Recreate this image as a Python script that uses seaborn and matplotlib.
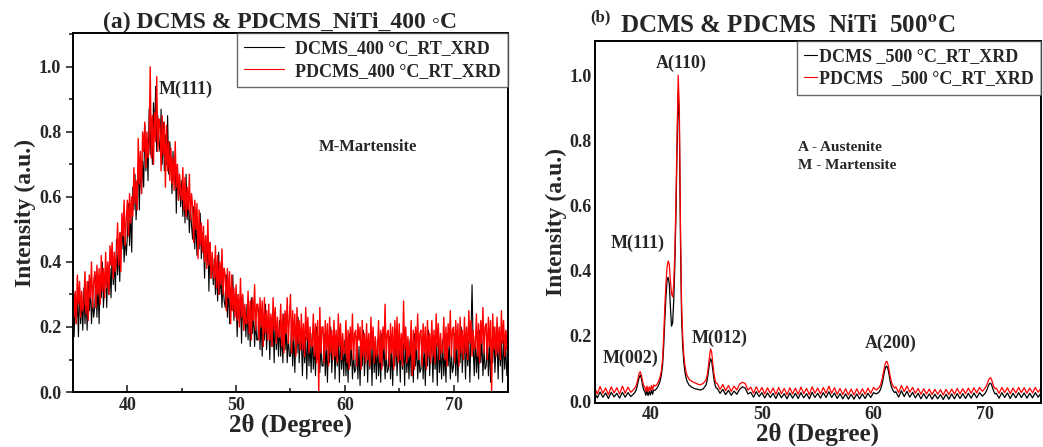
import numpy as np
import pandas as pd
import matplotlib
matplotlib.use("Agg")
import matplotlib.pyplot as plt
import seaborn as sns
from matplotlib.lines import Line2D
from matplotlib.ticker import MultipleLocator, FormatStrFormatter

# ---- panel (a): NiTi 400 C, read every 0.1 deg (one row per degree) ----
two_theta_a = np.round(np.arange(35, 75.001, 0.1), 2)

dcms_400 = [
    0.28, 0.17, 0.30, 0.21, 0.29, 0.17, 0.32, 0.21, 0.28, 0.19,  # 35
    0.32, 0.21, 0.29, 0.19, 0.34, 0.25, 0.32, 0.21, 0.29, 0.23,  # 36
    0.26, 0.36, 0.23, 0.33, 0.21, 0.36, 0.29, 0.40, 0.26, 0.34,  # 37
    0.37, 0.26, 0.39, 0.30, 0.38, 0.29, 0.44, 0.33, 0.40, 0.31,  # 38
    0.47, 0.36, 0.44, 0.34, 0.49, 0.44, 0.51, 0.40, 0.48, 0.42,  # 39
    0.48, 0.58, 0.45, 0.55, 0.43, 0.63, 0.56, 0.67, 0.53, 0.61,  # 40
    0.70, 0.56, 0.73, 0.61, 0.71, 0.63, 0.82, 0.68, 0.77, 0.65,  # 41
    0.87, 0.73, 0.83, 0.70, 0.89, 0.79, 0.94, 0.74, 0.85, 0.77,  # 42
    0.74, 0.87, 0.70, 0.83, 0.68, 0.79, 0.70, 0.85, 0.67, 0.77,  # 43
    0.72, 0.61, 0.74, 0.65, 0.73, 0.55, 0.70, 0.59, 0.66, 0.57,  # 44
    0.65, 0.54, 0.62, 0.52, 0.67, 0.53, 0.60, 0.49, 0.57, 0.51,  # 45
    0.47, 0.57, 0.44, 0.54, 0.42, 0.51, 0.44, 0.55, 0.41, 0.49,  # 46
    0.46, 0.35, 0.48, 0.39, 0.47, 0.31, 0.46, 0.35, 0.42, 0.33,  # 47
    0.41, 0.30, 0.38, 0.28, 0.43, 0.30, 0.37, 0.26, 0.34, 0.28,  # 48
    0.26, 0.36, 0.23, 0.33, 0.21, 0.32, 0.25, 0.36, 0.22, 0.30,  # 49
    0.28, 0.17, 0.30, 0.21, 0.29, 0.15, 0.30, 0.19, 0.26, 0.17,  # 50
    0.27, 0.16, 0.24, 0.14, 0.29, 0.18, 0.25, 0.14, 0.22, 0.16,  # 51
    0.16, 0.26, 0.13, 0.23, 0.11, 0.23, 0.16, 0.27, 0.13, 0.21,  # 52
    0.21, 0.10, 0.23, 0.14, 0.22, 0.09, 0.24, 0.13, 0.20, 0.11,  # 53
    0.22, 0.11, 0.19, 0.09, 0.24, 0.13, 0.20, 0.09, 0.17, 0.11,  # 54
    0.11, 0.21, 0.08, 0.18, 0.06, 0.19, 0.12, 0.23, 0.09, 0.17,  # 55
    0.16, 0.05, 0.18, 0.09, 0.17, 0.04, 0.19, 0.08, 0.15, 0.06,  # 56
    0.18, 0.07, 0.15, 0.05, 0.20, 0.10, 0.17, 0.06, 0.14, 0.08,  # 57
    0.08, 0.18, 0.05, 0.15, 0.03, 0.16, 0.09, 0.20, 0.06, 0.14,  # 58
    0.15, 0.04, 0.17, 0.08, 0.16, 0.03, 0.18, 0.07, 0.14, 0.05,  # 59
    0.16, 0.05, 0.13, 0.03, 0.18, 0.08, 0.15, 0.04, 0.12, 0.06,  # 60
    0.07, 0.17, 0.04, 0.14, 0.02, 0.15, 0.08, 0.19, 0.05, 0.13,  # 61
    0.14, 0.03, 0.16, 0.07, 0.15, 0.02, 0.17, 0.06, 0.13, 0.04,  # 62
    0.16, 0.05, 0.13, 0.03, 0.18, 0.08, 0.15, 0.04, 0.12, 0.06,  # 63
    0.07, 0.17, 0.04, 0.14, 0.02, 0.15, 0.08, 0.19, 0.05, 0.13,  # 64
    0.14, 0.03, 0.16, 0.07, 0.15, 0.02, 0.17, 0.06, 0.13, 0.04,  # 65
    0.16, 0.05, 0.13, 0.03, 0.18, 0.08, 0.15, 0.04, 0.12, 0.06,  # 66
    0.07, 0.17, 0.04, 0.14, 0.02, 0.15, 0.08, 0.19, 0.05, 0.13,  # 67
    0.14, 0.03, 0.16, 0.07, 0.15, 0.02, 0.17, 0.06, 0.13, 0.04,  # 68
    0.16, 0.05, 0.13, 0.03, 0.18, 0.08, 0.15, 0.04, 0.12, 0.06,  # 69
    0.08, 0.18, 0.05, 0.15, 0.03, 0.16, 0.09, 0.20, 0.06, 0.14,  # 70
    0.15, 0.04, 0.17, 0.08, 0.16, 0.03, 0.18, 0.33, 0.14, 0.05,  # 71
    0.17, 0.06, 0.14, 0.04, 0.19, 0.09, 0.16, 0.05, 0.13, 0.07,  # 72
    0.08, 0.18, 0.05, 0.15, 0.03, 0.16, 0.09, 0.20, 0.06, 0.14,  # 73
    0.15, 0.04, 0.17, 0.08, 0.16, 0.03, 0.18, 0.07, 0.14, 0.05,  # 74
    0.10,
]

pdcms_400 = [
    0.34, 0.23, 0.31, 0.21, 0.36, 0.27, 0.34, 0.23, 0.31, 0.25,  # 35
    0.27, 0.37, 0.24, 0.34, 0.22, 0.36, 0.29, 0.40, 0.26, 0.34,  # 36
    0.37, 0.26, 0.39, 0.30, 0.38, 0.27, 0.42, 0.31, 0.38, 0.29,  # 37
    0.43, 0.32, 0.40, 0.30, 0.45, 0.39, 0.46, 0.35, 0.43, 0.37,  # 38
    0.42, 0.52, 0.39, 0.49, 0.37, 0.55, 0.48, 0.59, 0.45, 0.53,  # 39
    0.59, 0.48, 0.61, 0.52, 0.60, 0.54, 0.69, 0.58, 0.65, 0.56,  # 40
    0.78, 0.64, 0.74, 0.61, 0.80, 0.74, 0.83, 0.69, 0.80, 0.72,  # 41
    0.76, 1.00, 0.72, 0.85, 0.70, 0.86, 0.77, 0.97, 0.74, 0.84,  # 42
    0.82, 0.68, 0.85, 0.73, 0.83, 0.63, 0.82, 0.68, 0.77, 0.65,  # 43
    0.75, 0.64, 0.72, 0.62, 0.77, 0.63, 0.70, 0.59, 0.67, 0.61,  # 44
    0.59, 0.69, 0.56, 0.66, 0.54, 0.63, 0.56, 0.67, 0.53, 0.61,  # 45
    0.57, 0.46, 0.59, 0.50, 0.58, 0.41, 0.56, 0.45, 0.52, 0.43,  # 46
    0.51, 0.40, 0.48, 0.38, 0.53, 0.39, 0.46, 0.35, 0.43, 0.37,  # 47
    0.35, 0.45, 0.32, 0.42, 0.30, 0.40, 0.33, 0.44, 0.30, 0.38,  # 48
    0.36, 0.25, 0.38, 0.29, 0.37, 0.21, 0.36, 0.25, 0.32, 0.23,  # 49
    0.33, 0.22, 0.30, 0.20, 0.35, 0.23, 0.30, 0.19, 0.27, 0.21,  # 50
    0.21, 0.31, 0.18, 0.28, 0.16, 0.29, 0.22, 0.33, 0.19, 0.27,  # 51
    0.27, 0.16, 0.29, 0.20, 0.28, 0.14, 0.29, 0.18, 0.25, 0.16,  # 52
    0.27, 0.16, 0.24, 0.14, 0.29, 0.19, 0.26, 0.15, 0.23, 0.17,  # 53
    0.17, 0.27, 0.14, 0.24, 0.12, 0.25, 0.18, 0.29, 0.15, 0.23,  # 54
    0.30, 0.12, 0.25, 0.16, 0.24, 0.11, 0.26, 0.15, 0.22, 0.13,  # 55
    0.24, 0.13, 0.21, 0.11, 0.26, 0.16, 0.23, 0.12, 0.20, 0.14,  # 56
    0.14, 0.24, 0.11, 0.21, 0.09, 0.22, 0.00, 0.26, 0.12, 0.20,  # 57
    0.20, 0.09, 0.22, 0.13, 0.21, 0.08, 0.23, 0.12, 0.19, 0.10,  # 58
    0.22, 0.11, 0.19, 0.09, 0.24, 0.14, 0.21, 0.10, 0.18, 0.12,  # 59
    0.12, 0.22, 0.09, 0.19, 0.07, 0.20, 0.13, 0.24, 0.10, 0.18,  # 60
    0.19, 0.08, 0.21, 0.16, 0.20, 0.07, 0.22, 0.11, 0.18, 0.09,  # 61
    0.21, 0.10, 0.18, 0.08, 0.23, 0.13, 0.20, 0.09, 0.17, 0.11,  # 62
    0.12, 0.22, 0.09, 0.19, 0.07, 0.20, 0.13, 0.27, 0.10, 0.18,  # 63
    0.19, 0.08, 0.21, 0.12, 0.20, 0.07, 0.22, 0.11, 0.23, 0.09,  # 64
    0.21, 0.10, 0.18, 0.08, 0.28, 0.13, 0.20, 0.09, 0.17, 0.11,  # 65
    0.12, 0.22, 0.05, 0.19, 0.07, 0.20, 0.13, 0.24, 0.10, 0.18,  # 66
    0.19, 0.08, 0.21, 0.12, 0.20, 0.07, 0.22, 0.11, 0.18, 0.09,  # 67
    0.22, 0.11, 0.19, 0.09, 0.24, 0.14, 0.21, 0.10, 0.18, 0.12,  # 68
    0.13, 0.23, 0.10, 0.20, 0.08, 0.21, 0.14, 0.25, 0.11, 0.19,  # 69
    0.20, 0.09, 0.22, 0.13, 0.21, 0.08, 0.23, 0.12, 0.19, 0.10,  # 70
    0.23, 0.12, 0.20, 0.10, 0.25, 0.15, 0.22, 0.11, 0.19, 0.13,  # 71
    0.14, 0.24, 0.11, 0.21, 0.09, 0.22, 0.15, 0.26, 0.12, 0.20,  # 72
    0.21, 0.10, 0.23, 0.14, 0.22, 0.00, 0.24, 0.13, 0.20, 0.11,  # 73
    0.23, 0.12, 0.20, 0.10, 0.25, 0.15, 0.22, 0.11, 0.19, 0.13,  # 74
    0.22,
]

# ---- panel (b): NiTi 500 C, finer steps around the peaks ----
two_theta_b = np.round(np.concatenate([
    np.arange(35.0, 38.5, 0.25), np.arange(38.5, 43.45, 0.1),
    np.arange(43.5, 45.0, 0.25), np.arange(45.0, 45.95, 0.1),
    np.arange(46.0, 60.5, 0.25), np.arange(60.5, 61.95, 0.1),
    np.arange(62.0, 70.0, 0.25), np.arange(70.0, 70.95, 0.1),
    np.arange(71.0, 75.01, 0.25)]), 2)

dcms_500 = [
    0.026, 0.010, 0.028, 0.012, 0.025, 0.008, 0.027, 0.013, 0.024, 0.009, 0.027, 0.012, 0.026, 0.014,
    0.022, 0.026, 0.032, 0.042, 0.058, 0.072, 0.080, 0.070, 0.050, 0.035,
    0.030, 0.018, 0.032, 0.017, 0.030, 0.019, 0.033, 0.021, 0.034, 0.033,
    0.036, 0.040, 0.046, 0.054, 0.065, 0.082, 0.11, 0.17, 0.25, 0.32,
    0.37, 0.38, 0.36, 0.29, 0.23, 0.24, 0.31, 0.42, 0.58, 0.78,
    0.95, 0.86, 0.50, 0.26, 0.17, 0.12, 0.09, 0.072, 0.060, 0.054,
    0.048, 0.042, 0.038, 0.036, 0.034, 0.038,
    0.050, 0.065, 0.088, 0.115, 0.130, 0.122, 0.095, 0.068, 0.050, 0.040,
    0.039, 0.024, 0.036, 0.020, 0.033, 0.018, 0.031, 0.021, 0.036, 0.044, 0.040, 0.022,
    0.027, 0.012, 0.029, 0.014, 0.026, 0.010, 0.025, 0.011, 0.024, 0.008, 0.026, 0.010,
    0.023, 0.007, 0.025, 0.009, 0.024, 0.008, 0.026, 0.010, 0.023, 0.007, 0.027, 0.011,
    0.024, 0.009, 0.026, 0.011, 0.029, 0.011, 0.025, 0.008, 0.023, 0.007, 0.022, 0.006,
    0.021, 0.006, 0.022, 0.007, 0.022, 0.008, 0.024, 0.011, 0.026, 0.022,
    0.028, 0.034, 0.044, 0.058, 0.076, 0.094, 0.105, 0.107, 0.098, 0.080, 0.060, 0.045, 0.036, 0.030, 0.026,
    0.029, 0.012, 0.032, 0.014, 0.030, 0.012, 0.027, 0.010, 0.024, 0.007, 0.023, 0.008,
    0.022, 0.006, 0.021, 0.007, 0.020, 0.005, 0.021, 0.006, 0.022, 0.007, 0.023, 0.008,
    0.023, 0.008, 0.024, 0.009, 0.025, 0.010, 0.026, 0.015,
    0.024, 0.030, 0.038, 0.048, 0.054, 0.055, 0.048, 0.037, 0.028, 0.022,
    0.024, 0.009, 0.026, 0.011, 0.025, 0.008, 0.024, 0.010, 0.026, 0.011, 0.025, 0.009,
    0.024, 0.010, 0.026, 0.012, 0.024,
]

pdcms_500 = [
    0.042, 0.022, 0.045, 0.024, 0.040, 0.020, 0.044, 0.025, 0.041, 0.022, 0.046, 0.024, 0.043, 0.027,
    0.035, 0.040, 0.045, 0.055, 0.070, 0.085, 0.090, 0.080, 0.062, 0.048,
    0.044, 0.030, 0.046, 0.029, 0.044, 0.032, 0.048, 0.034, 0.050, 0.046,
    0.048, 0.052, 0.058, 0.066, 0.078, 0.095, 0.13, 0.20, 0.29, 0.36,
    0.41, 0.43, 0.42, 0.37, 0.33, 0.32, 0.36, 0.46, 0.62, 0.82,
    1.00, 0.90, 0.55, 0.30, 0.20, 0.14, 0.11, 0.09, 0.078, 0.072,
    0.066, 0.060, 0.056, 0.052, 0.050, 0.055,
    0.065, 0.080, 0.105, 0.135, 0.160, 0.150, 0.115, 0.085, 0.065, 0.055,
    0.054, 0.036, 0.051, 0.032, 0.048, 0.030, 0.046, 0.034, 0.052, 0.058, 0.054, 0.034,
    0.043, 0.024, 0.044, 0.026, 0.042, 0.022, 0.041, 0.024, 0.040, 0.021, 0.042, 0.023,
    0.039, 0.020, 0.041, 0.022, 0.040, 0.021, 0.043, 0.023, 0.039, 0.020, 0.044, 0.024,
    0.040, 0.022, 0.042, 0.024, 0.046, 0.024, 0.041, 0.021, 0.039, 0.020, 0.038, 0.019,
    0.037, 0.019, 0.038, 0.020, 0.038, 0.021, 0.040, 0.024, 0.042, 0.034,
    0.042, 0.048, 0.058, 0.072, 0.090, 0.108, 0.120, 0.122, 0.112, 0.095, 0.075, 0.060, 0.050, 0.044, 0.040,
    0.044, 0.026, 0.048, 0.029, 0.046, 0.027, 0.042, 0.024, 0.039, 0.021, 0.038, 0.022,
    0.037, 0.020, 0.036, 0.021, 0.035, 0.019, 0.036, 0.020, 0.037, 0.021, 0.039, 0.022,
    0.038, 0.023, 0.040, 0.024, 0.041, 0.025, 0.042, 0.030,
    0.040, 0.046, 0.054, 0.064, 0.070, 0.072, 0.064, 0.052, 0.043, 0.038,
    0.040, 0.024, 0.042, 0.026, 0.041, 0.023, 0.040, 0.025, 0.042, 0.026, 0.041, 0.024,
    0.040, 0.025, 0.042, 0.027, 0.040,
]

labels_a = ["DCMS_400 \u00b0C_RT_XRD", "PDCMS_400 \u00b0C_RT_XRD"]
labels_b = ["DCMS _500 \u00b0C_RT_XRD", "PDCMS  _500 \u00b0C_RT_XRD"]
colors = ["black", "red"]

assert len(dcms_400) == len(pdcms_400) == len(two_theta_a)
assert len(dcms_500) == len(pdcms_500) == len(two_theta_b)

df_a = pd.concat([
    pd.DataFrame({"x": two_theta_a, "y": dcms_400, "s": labels_a[0]}),
    pd.DataFrame({"x": two_theta_a, "y": pdcms_400, "s": labels_a[1]}),
])
df_b = pd.concat([
    pd.DataFrame({"x": two_theta_b, "y": dcms_500, "s": labels_b[0]}),
    pd.DataFrame({"x": two_theta_b, "y": pdcms_500, "s": labels_b[1]}),
])

sns.set_style("ticks")
plt.rcParams["font.family"] = ["Liberation Serif", "DejaVu Serif"]
plt.rcParams["font.weight"] = "bold"
plt.rcParams["axes.labelweight"] = "bold"
plt.rcParams["mathtext.fontset"] = "stix"

fig = plt.figure(figsize=(10.43, 4.47), dpi=100)
ax1 = fig.add_axes([0.070, 0.123, 0.417, 0.803])
ax2 = fig.add_axes([0.570, 0.099, 0.428, 0.810])

for ax, df, labels, lw in [(ax1, df_a, labels_a, 0.8), (ax2, df_b, labels_b, 0.9)]:
    sns.lineplot(data=df, x="x", y="y", hue="s", palette=colors,
                 estimator=None, sort=False, linewidth=lw, legend=False, ax=ax)
    ax.set_xlim(35, 75)
    ax.set_xlabel("2\u03b8 (Degree)", fontsize=18, labelpad=0)
    ax.set_ylabel("Intensity (a.u.)", fontsize=17, labelpad=2)
    ax.xaxis.set_major_locator(MultipleLocator(10))
    ax.yaxis.set_major_locator(MultipleLocator(0.2))
    ax.yaxis.set_major_formatter(FormatStrFormatter("%.1f"))
    for sp in ax.spines.values():
        sp.set_visible(True)
        sp.set_linewidth(1.4)
        sp.set_color("black")
    for t in ax.get_xticklabels() + ax.get_yticklabels():
        t.set_fontweight("bold")
    ax.tick_params(labelsize=13)
    handles = [Line2D([], [], color=c, lw=0.8) for c in colors]
    leg = ax.legend(handles, labels, loc="upper right", fontsize=13,
                    frameon=True, fancybox=False, borderaxespad=0,
                    handlelength=2.2 if ax is ax1 else 0.7,
                    handletextpad=0.6 if ax is ax1 else 0.1,
                    labelspacing=0.3, borderpad=0.4)
    leg.get_frame().set_edgecolor("#444444")
    leg.get_frame().set_linewidth(1.0)

# red trace of panel (a) a touch heavier so it dominates like the original
ax1.lines[1].set_linewidth(1.0)

ax1.set_ylim(0, 1.104)
ax1.xaxis.set_minor_locator(MultipleLocator(5))
ax1.yaxis.set_minor_locator(MultipleLocator(0.1))
ax1.tick_params(axis="y", which="both", direction="out", length=5, width=1.2)
ax1.tick_params(axis="y", which="minor", length=3)
ax1.tick_params(axis="x", which="both", direction="in", length=5, width=1.2)
ax1.tick_params(axis="x", which="minor", length=3)

ax2.set_ylim(-0.005, 1.106)
ax2.tick_params(length=0, pad=2)

# annotations
ax1.text(42.9, 0.93, "M(111)", fontsize=13, fontweight="bold", va="center")
ax1.text(62.1, 0.755, "M-Martensite", fontsize=12, fontweight="bold",
         ha="center", va="center")

peak_notes = [("A(110)", 42.8, 1.037), ("M(111)", 38.9, 0.483),
              ("M(002)", 38.2, 0.13), ("M(012)", 46.2, 0.193),
              ("A(200)", 61.5, 0.177)]
for txt, px, py in peak_notes:
    ax2.text(px, py, txt, fontsize=13, fontweight="bold", ha="center", va="center")
ax2.text(53.2, 0.777, "A - Austenite", fontsize=11, fontweight="bold", va="center")
ax2.text(53.2, 0.722, "M - Martensite", fontsize=11, fontweight="bold", va="center")

# titles
fig.text(280 / 1043, 1 - 22 / 447, "(a) DCMS & PDCMS_NiTi_400 \u25e6C",
         fontsize=17, fontweight="bold", ha="center", va="center")
fig.text(600 / 1043, 1 - 17 / 447, "(b)", fontsize=12, fontweight="bold",
         ha="center", va="center")
fig.text(620 / 1043, 1 - 25 / 447, r"DCMS & PDCMS  NiTi  500$^{\mathbf{o}}$C",
         fontsize=18, fontweight="bold", ha="left", va="center")

fig.savefig("out.png", dpi=100)
